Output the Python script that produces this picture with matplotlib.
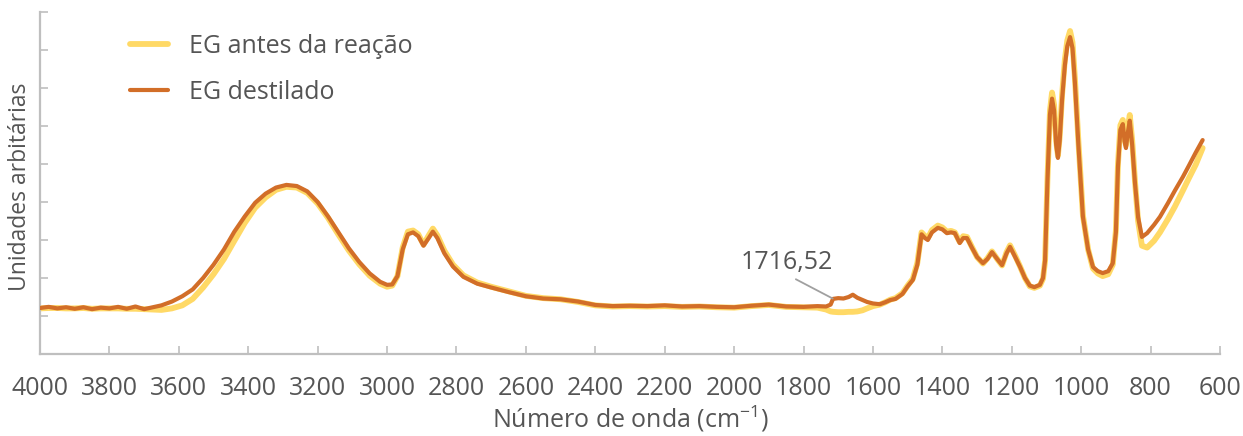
import matplotlib
matplotlib.use("Agg")
import matplotlib.pyplot as plt

# FTIR spectra of ethylene glycol (arbitrary units)
wavenumber = [
    4000, 3975, 3950, 3925, 3900, 3875, 3850, 3825, 3800, 3775, 3750, 3725, 3700, 3675,
    3650, 3620, 3590, 3560, 3530, 3500, 3470, 3440, 3410, 3380, 3350, 3320, 3290, 3260,
    3230, 3200, 3170, 3140, 3110, 3080, 3050, 3020, 3000, 2985, 2970, 2955, 2940, 2925,
    2910, 2895, 2880, 2868, 2855, 2835, 2810, 2780, 2740, 2700, 2650, 2600, 2550, 2500,
    2450, 2400, 2350, 2300, 2250, 2200, 2150, 2100, 2050, 2000, 1950, 1900, 1850, 1800,
    1760, 1735, 1722, 1715, 1700, 1685, 1670, 1658, 1645, 1630, 1617, 1600, 1580, 1565,
    1550, 1535, 1515, 1500, 1485, 1472, 1460, 1450, 1442, 1430, 1413, 1400, 1387, 1375,
    1364, 1350, 1340, 1329, 1315, 1300, 1283, 1270, 1257, 1242, 1228, 1215, 1205, 1190,
    1176, 1162, 1148, 1135, 1119, 1110, 1104, 1097, 1090, 1084, 1078, 1072, 1067, 1062,
    1055, 1047, 1040, 1032, 1025, 1018, 1008, 995, 980, 966, 952, 938, 922, 909,
    900, 894, 887, 880, 875, 871, 866, 860, 853, 845, 836, 825, 810, 790,
    773, 750, 730, 707, 690, 670, 650,
]

eg_antes = [
    1.20, 1.21, 1.21, 1.20, 1.20, 1.21, 1.19, 1.20, 1.20, 1.20, 1.19, 1.19, 1.18, 1.17,
    1.16, 1.20, 1.28, 1.45, 1.75, 2.10, 2.50, 2.98, 3.45, 3.85, 4.12, 4.32, 4.40, 4.38,
    4.24, 3.96, 3.58, 3.14, 2.72, 2.36, 2.06, 1.85, 1.77, 1.80, 2.05, 2.80, 3.22, 3.25,
    3.15, 2.88, 3.12, 3.30, 3.12, 2.72, 2.35, 2.07, 1.88, 1.77, 1.65, 1.53, 1.47, 1.44,
    1.37, 1.28, 1.25, 1.26, 1.25, 1.26, 1.24, 1.25, 1.23, 1.22, 1.26, 1.29, 1.24, 1.23,
    1.22, 1.17, 1.12, 1.11, 1.10, 1.10, 1.11, 1.11, 1.12, 1.15, 1.20, 1.26, 1.30, 1.36,
    1.43, 1.47, 1.60, 1.80, 1.98, 2.40, 3.20, 3.10, 3.05, 3.26, 3.38, 3.33, 3.22, 3.24,
    3.20, 2.95, 3.10, 3.08, 2.82, 2.55, 2.38, 2.52, 2.70, 2.50, 2.33, 2.68, 2.86, 2.58,
    2.30, 2.00, 1.78, 1.74, 1.80, 1.98, 2.45, 4.65, 6.40, 6.88, 6.55, 5.60, 5.22, 5.70,
    6.82, 7.75, 8.25, 8.50, 8.20, 7.25, 5.60, 3.65, 2.75, 2.25, 2.12, 2.05, 2.10, 2.35,
    3.25, 5.00, 6.02, 6.16, 5.70, 5.50, 5.92, 6.29, 5.62, 4.55, 3.50, 2.85, 2.80, 2.98,
    3.20, 3.55, 3.88, 4.30, 4.62, 4.98, 5.42,
]

eg_destilado = [
    1.21, 1.24, 1.20, 1.23, 1.19, 1.23, 1.18, 1.22, 1.20, 1.24, 1.19, 1.25, 1.18, 1.23,
    1.28, 1.38, 1.52, 1.70, 2.00, 2.35, 2.75, 3.22, 3.62, 3.98, 4.22, 4.38, 4.45, 4.42,
    4.28, 4.00, 3.62, 3.20, 2.78, 2.42, 2.12, 1.90, 1.82, 1.83, 2.05, 2.75, 3.15, 3.20,
    3.10, 2.85, 3.05, 3.22, 3.05, 2.65, 2.30, 2.03, 1.85, 1.75, 1.63, 1.52, 1.46, 1.44,
    1.38, 1.29, 1.26, 1.27, 1.26, 1.28, 1.25, 1.26, 1.24, 1.23, 1.27, 1.30, 1.25, 1.24,
    1.26, 1.25, 1.30, 1.45, 1.47, 1.46, 1.50, 1.56, 1.48, 1.42, 1.37, 1.33, 1.31, 1.36,
    1.42, 1.45, 1.58, 1.78, 1.95, 2.35, 3.15, 3.05, 3.00, 3.20, 3.32, 3.28, 3.18, 3.20,
    3.18, 2.92, 3.05, 3.05, 2.80, 2.55, 2.39, 2.50, 2.68, 2.50, 2.34, 2.65, 2.82, 2.55,
    2.29, 2.00, 1.80, 1.76, 1.82, 2.00, 2.47, 4.60, 6.30, 6.72, 6.40, 5.50, 5.16, 5.60,
    6.70, 7.60, 8.10, 8.34, 8.05, 7.13, 5.50, 3.61, 2.75, 2.29, 2.18, 2.13, 2.18, 2.39,
    3.20, 4.92, 5.90, 6.05, 5.60, 5.42, 5.80, 6.14, 5.50, 4.50, 3.60, 3.08, 3.18, 3.40,
    3.61, 3.97, 4.30, 4.66, 4.95, 5.30, 5.63,
]

x_ticks = [4000, 3800, 3600, 3400, 3200, 3000, 2800, 2600, 2400, 2200,
           2000, 1800, 1600, 1400, 1200, 1000, 800, 600]
y_ticks = [0, 1, 2, 3, 4, 5, 6, 7, 8, 9]

peak_wavenumber = 1716
peak_value = 1.46
peak_label = "1716,52"

series_labels = ["EG antes da reação", "EG destilado"]

TEXT = "#555555"
AXIS = "#BFBFBF"
YELLOW = "#FFD966"
ORANGE = "#D26E28"
FS = 18

plt.rcParams["font.family"] = ["Open Sans", "DejaVu Sans"]
plt.rcParams["mathtext.fontset"] = "custom"
plt.rcParams["mathtext.rm"] = "Open Sans"

fig = plt.figure(figsize=(12.43, 4.36), dpi=100)
W, H = 1243, 436
ax = fig.add_axes([40 / W, (H - 354) / H, (1220 - 40) / W, (354 - 12) / H])

ax.plot(wavenumber, eg_antes, color=YELLOW, lw=4.2, solid_joinstyle="round",
        solid_capstyle="round", label=series_labels[0], zorder=2)
ax.plot(wavenumber, eg_destilado, color=ORANGE, lw=3.0, solid_joinstyle="round",
        solid_capstyle="round", label=series_labels[1], zorder=3)

ax.set_xlim(4000, 600)
ax.set_ylim(0, 9)
ax.set_xticks(x_ticks)
ax.set_xticklabels([str(t) for t in x_ticks])
ax.set_yticks(y_ticks)
ax.set_yticklabels([])

for side in ("top", "right"):
    ax.spines[side].set_visible(False)
for side in ("left", "bottom"):
    ax.spines[side].set_color(AXIS)
    ax.spines[side].set_linewidth(1.6)

ax.tick_params(axis="both", direction="in", length=5.5, width=1.2, color=AXIS)
ax.tick_params(axis="x", labelsize=FS, labelcolor=TEXT, pad=16)

ax.set_xlabel(r"Número de onda (cm$^{\mathregular{-1}}$)", fontsize=FS,
              color=TEXT, labelpad=2)
ax.set_ylabel("Unidades arbitárias", fontsize=16.5, color=TEXT)
ax.yaxis.set_label_coords(-0.0068, 0.49)

ax.annotate(peak_label, xy=(peak_wavenumber, peak_value), xytext=(1848, 2.42),
            ha="center", va="center", fontsize=FS, color=TEXT,
            arrowprops=dict(arrowstyle="-", color="#A0A0A0", lw=1.3,
                            shrinkA=3, shrinkB=0, relpos=(0.5, 0.0)),
            zorder=4)

leg = ax.legend(loc="upper left", bbox_to_anchor=(0.0763, 0.935), frameon=False,
                fontsize=FS, handlelength=1.5, handletextpad=0.85,
                labelspacing=0.84, borderpad=0, borderaxespad=0)
for txt in leg.get_texts():
    txt.set_color(TEXT)

fig.savefig("out.png", dpi=100, facecolor="white")
